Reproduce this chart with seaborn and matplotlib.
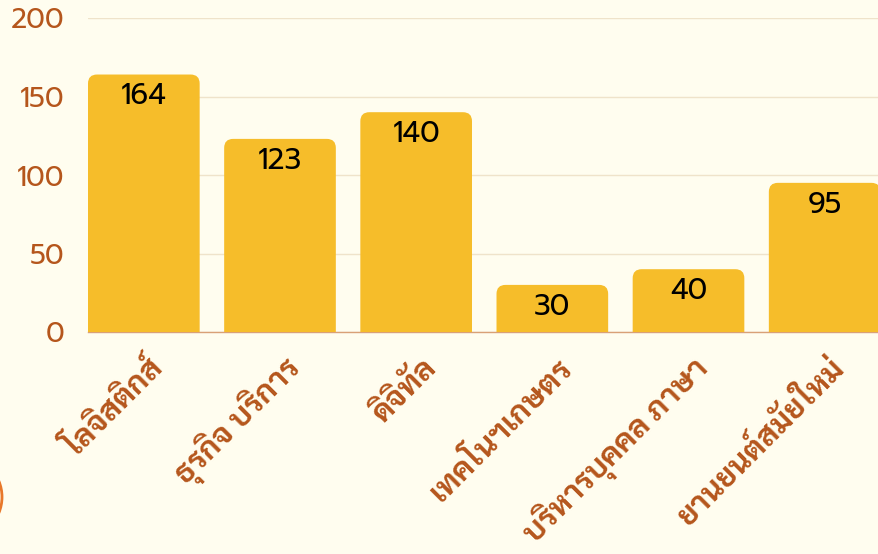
import matplotlib
matplotlib.use("Agg")
import matplotlib.pyplot as plt
import seaborn as sns
import pandas as pd
from matplotlib.patches import FancyBboxPatch, Ellipse
from matplotlib.transforms import offset_copy

categories = ["โลจิสติกส์", "ธุรกิจ บริการ", "ดิจิทัล", "เทคโนฯเกษตร", "บริหารบุคคล ภาษา", "ยานยนต์สมัยใหม่"]
values = [164, 123, 140, 30, 40, 95]
yticks = [0, 50, 100, 150, 200]

BG = "#FFFDEF"
BAR = "#F6BD2A"
TICK = "#B5561C"
GRID = "#EFE3CA"
NUMFONT = ["Prompt", "DejaVu Sans"]

sns.set_theme(style="white")
plt.rcParams["font.family"] = ["Sarabun", "DejaVu Sans"]

df = pd.DataFrame({"cat": categories, "val": values})
fig = plt.figure(figsize=(8.79, 5.54), dpi=100)
fig.patch.set_facecolor(BG)
ax = fig.add_axes([88/879, 1-332/554, (880.5-88)/879, 314/554])
ax.set_facecolor(BG)
sns.barplot(data=df, x="cat", y="val", color=BAR, width=0.82, saturation=1, ax=ax, zorder=3)
ax.set_ylim(0, 200)
ax.set_xlim(-0.41, 5.41)

# rounded tops
xpx = (880.5-88)/5.82
ypx = 314/200
r = 9
for p in list(ax.patches):
    x0, w, h = p.get_x(), p.get_width(), p.get_height()
    p.set_visible(False)
    fb = FancyBboxPatch((x0, -r/ypx), w, h + r/ypx,
                        boxstyle=f"round,pad=0,rounding_size={r/xpx}",
                        mutation_aspect=xpx/ypx, facecolor=BAR, edgecolor="none", zorder=3)
    ax.add_patch(fb)

for i, v in enumerate(values):
    ax.annotate(str(v), (i, v), xytext=(0, -16), textcoords="offset points",
                ha="center", va="center", fontsize=21, color="black",
                family=NUMFONT, zorder=5)

ax.set_yticks(yticks)
ax.yaxis.grid(True, color=GRID, linewidth=1, zorder=0)
for s in ["top", "right", "left"]:
    ax.spines[s].set_visible(False)
ax.spines["bottom"].set_color("#D9A077")
ax.spines["bottom"].set_linewidth(1)
ax.spines["bottom"].set_zorder(1)
ax.set_xlabel("")
ax.set_ylabel("")
ax.tick_params(axis="y", length=0, pad=17, labelsize=20, labelcolor=TICK)
for lab in ax.get_yticklabels():
    lab.set_fontfamily(NUMFONT)
ax.tick_params(axis="x", length=0, pad=10)
ax.set_xticks(range(len(categories)))
ax.set_xticklabels(categories, rotation=45, ha="right", va="center", rotation_mode="anchor",
                   fontsize=22.5, fontweight="bold", color=TICK)
for lab in ax.get_xticklabels():
    lab.set_transform(offset_copy(lab.get_transform(), fig=fig, x=11, y=-13, units="points"))

# decorative arc at lower left edge
fig.add_artist(Ellipse((-40/879, 1-497/554), 84/879, 84/554, transform=fig.transFigure,
                       facecolor="none", edgecolor="#E8782A", linewidth=2))

fig.savefig("out.png", dpi=100, facecolor=fig.get_facecolor())
